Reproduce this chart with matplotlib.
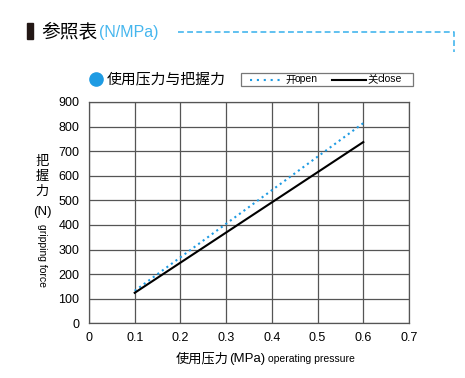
import matplotlib.pyplot as plt
from matplotlib.patches import Rectangle

plt.rcParams['font.family'] = ['Liberation Sans', 'Noto Sans CJK SC', 'DejaVu Sans']

# data
pressure = [0.1, 0.6]
open_force = [132, 814]
close_force = [124, 737]
xticks = [0, 0.1, 0.2, 0.3, 0.4, 0.5, 0.6, 0.7]
yticks = [0, 100, 200, 300, 400, 500, 600, 700, 800, 900]

blue = '#1e9be3'
light_blue = '#45b6ee'
W, H = 465, 378
cjk = ['Noto Sans CJK SC', 'Liberation Sans']

fig = plt.figure(figsize=(W / 100, H / 100), dpi=100)
ax = fig.add_axes([89 / W, 1 - 323.3 / H, (409 - 89) / W, (323.3 - 102) / H])

ax.plot(pressure, open_force, color=blue, linestyle=(0, (1, 1.7)), linewidth=1.5)
ax.plot(pressure, close_force, color='black', linewidth=1.5)

ax.set_xlim(0, 0.7)
ax.set_ylim(0, 900)
ax.set_xticks(xticks)
ax.set_yticks(yticks)
ax.set_xticklabels([str(v) for v in xticks], fontsize=9)
ax.set_yticklabels([str(v) for v in yticks], fontsize=9)
ax.tick_params(axis='y', length=0, pad=7)
ax.tick_params(axis='x', length=0, pad=6)
ax.grid(True, color='#555555', linewidth=0.9)
ax.set_axisbelow(True)
for s in ax.spines.values():
    s.set_color('#555555')
    s.set_linewidth(0.9)

# axis titles
fig.text(229 / W, 1 - 359 / H, '使用压力', fontsize=9.5, ha='right', va='center',
         family=cjk)
fig.text(229 / W, 1 - 359 / H, '(MPa)', fontsize=9.5, ha='left', va='center')
fig.text(268 / W, 1 - 359 / H, 'operating pressure', fontsize=7.5, ha='left', va='center')
fig.text(42 / W, 1 - 176 / H, '把\n握\n力', fontsize=9.5, ha='center', va='center',
         linespacing=1.2, family=cjk)
fig.text(42 / W, 1 - 212 / H, '(N)', fontsize=9.5, ha='center', va='center')
fig.text(42 / W, 1 - 255 / H, 'gripping force', fontsize=7.5, ha='center', va='center',
         rotation=-90)

# header
fig.patches.append(Rectangle((27 / W, 1 - 39 / H), 5.5 / W, 16 / H, color='#231815',
                             transform=fig.transFigure))
fig.text(41 / W, 1 - 32 / H, '参照表', fontsize=13.5, ha='left', va='center',
         family=cjk)
fig.text(99 / W, 1 - 32 / H, '(N/MPa)', fontsize=11.5, ha='left', va='center',
         color=light_blue)
fig.add_artist(plt.Line2D([178 / W, 454 / W, 454 / W],
                          [1 - 32 / H, 1 - 32 / H, 1 - 52 / H],
                          transform=fig.transFigure, color=light_blue,
                          linewidth=1.2, linestyle=(0, (3.5, 2))))

# chart title with dot
fig.add_artist(plt.Line2D([96 / W], [1 - 79 / H], marker='o', markersize=9.5,
                          color=blue, transform=fig.transFigure))
fig.text(107 / W, 1 - 79 / H, '使用压力与把握力', fontsize=10.7, ha='left', va='center',
         family=cjk)

# legend box
fig.patches.append(Rectangle((241 / W, 1 - 86 / H), (413 - 241) / W, 13.3 / H,
                             facecolor='white', edgecolor='#777777', linewidth=0.9,
                             transform=fig.transFigure))
fig.add_artist(plt.Line2D([250 / W, 281 / W], [1 - 79.5 / H, 1 - 79.5 / H],
                          transform=fig.transFigure, color=blue, linewidth=1.5,
                          linestyle=(0, (1, 2.3))))
fig.text(285 / W, 1 - 79.5 / H, '开', fontsize=7.5, ha='left', va='center', family=cjk)
fig.text(295 / W, 1 - 79.5 / H, 'open', fontsize=7.5, ha='left', va='center')
fig.add_artist(plt.Line2D([332 / W, 366 / W], [1 - 79.5 / H, 1 - 79.5 / H],
                          transform=fig.transFigure, color='black', linewidth=1.5))
fig.text(367 / W, 1 - 79.5 / H, '关', fontsize=7.5, ha='left', va='center', family=cjk)
fig.text(377 / W, 1 - 79.5 / H, 'close', fontsize=7.5, ha='left', va='center')

fig.savefig('out.png', dpi=100, facecolor='white')
